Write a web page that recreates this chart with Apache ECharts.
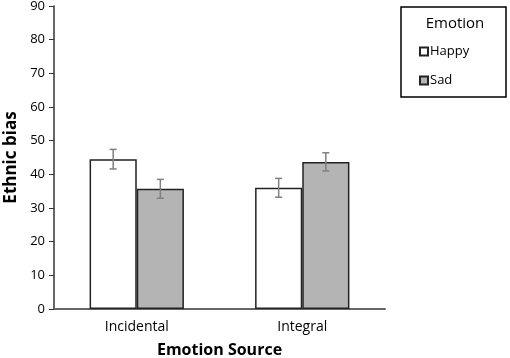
<!DOCTYPE html>
<html><head><meta charset="utf-8">
<script src="https://cdn.jsdelivr.net/npm/echarts@6/dist/echarts.min.js"></script>
<style>html,body{margin:0;padding:0;background:#fff}#c{width:510px;height:358px}</style>
</head><body><div id="c"></div>
<script>
var categories = ['Incidental', 'Integral'];
var happy = [44.5, 36.0];
var sad = [35.7, 43.7];
var happyErr = [2.9, 2.8];
var sadErr = [2.8, 2.7];
var yTicks = [0, 10, 20, 30, 40, 50, 60, 70, 80, 90];

var FONT = 'Open Sans';
var GAP = 0.43;
var chart = echarts.init(document.getElementById('c'), null, {renderer: 'canvas'});

function errData(vals, errs) {
  return vals.map(function (v, i) { return [i, v - errs[i], v + errs[i]]; });
}
function errSeries(name, vals, errs, side) {
  return {
    type: 'custom', name: name + ' err', silent: true, z: 5,
    data: errData(vals, errs),
    renderItem: function (params, api) {
      var cw = api.size([1, 0])[0];
      var bw = cw * (1 - GAP) / 2;
      var lo = api.coord([api.value(0), api.value(1)]);
      var hi = api.coord([api.value(0), api.value(2)]);
      var x = lo[0] + side * bw / 2;
      var h = 3.5;
      var st = {stroke: '#808080', lineWidth: 1.5};
      return {type: 'group', children: [
        {type: 'line', shape: {x1: x, y1: lo[1], x2: x, y2: hi[1]}, style: st},
        {type: 'line', shape: {x1: x - h, y1: lo[1], x2: x + h, y2: lo[1]}, style: st},
        {type: 'line', shape: {x1: x - h, y1: hi[1], x2: x + h, y2: hi[1]}, style: st}
      ]};
    }
  };
}

chart.setOption({
  animation: false,
  textStyle: {fontFamily: FONT},
  grid: {left: 54, right: 125, top: 6, bottom: 49, containLabel: false, outerBoundsMode: 'none'},
  xAxis: {
    type: 'category', data: categories,
    axisLine: {lineStyle: {color: '#666', width: 2}},
    axisTick: {show: false},
    axisLabel: {color: '#000', fontSize: 14, fontFamily: FONT, margin: 11},
    name: 'Emotion Source', nameLocation: 'middle', nameGap: 33,
    nameTextStyle: {color: '#000', fontSize: 16, fontWeight: 'bold', fontFamily: FONT}
  },
  yAxis: {
    type: 'value', min: 0, max: 90, interval: 10,
    axisLine: {show: true, lineStyle: {color: '#333', width: 1.5}},
    axisTick: {show: true, inside: false, length: 5, lineStyle: {color: '#333'}},
    splitLine: {show: false},
    axisLabel: {color: '#000', fontSize: 13, fontFamily: FONT, margin: 9,
      formatter: function (v) { return yTicks.indexOf(v) >= 0 ? String(v) : ''; }},
    name: 'Ethnic bias', nameLocation: 'middle', nameGap: 32, nameRotate: 90,
    nameTextStyle: {color: '#000', fontSize: 17, fontWeight: 'bold', fontFamily: FONT}
  },
  legend: {
    orient: 'vertical', left: 414, top: 40, itemGap: 16,
    icon: 'rect', itemWidth: 8, itemHeight: 8,
    data: ['Happy', 'Sad'],
    textStyle: {color: '#000', fontSize: 13, fontFamily: FONT, padding: [0, 0, 0, -3]}
  },
  graphic: [
    {type: 'rect', shape: {x: 401, y: 7, width: 105, height: 90},
      style: {fill: 'none', stroke: '#000', lineWidth: 1.5}},
    {type: 'text', style: {text: 'Emotion', x: 455, y: 24, fontSize: 15, fontFamily: FONT, fill: '#000', textAlign: 'center', textVerticalAlign: 'middle'}}
  ],
  series: [
    {type: 'bar', name: 'Happy', data: happy, barGap: '0%', barCategoryGap: (GAP * 100) + '%',
      itemStyle: {color: '#fff', borderColor: '#222', borderWidth: 1.5}},
    {type: 'bar', name: 'Sad', data: sad, barGap: '0%', barCategoryGap: (GAP * 100) + '%',
      itemStyle: {color: '#b4b4b4', borderColor: '#222', borderWidth: 1.5}},
    errSeries('Happy', happy, happyErr, -1),
    errSeries('Sad', sad, sadErr, 1)
  ]
});
</script></body></html>
